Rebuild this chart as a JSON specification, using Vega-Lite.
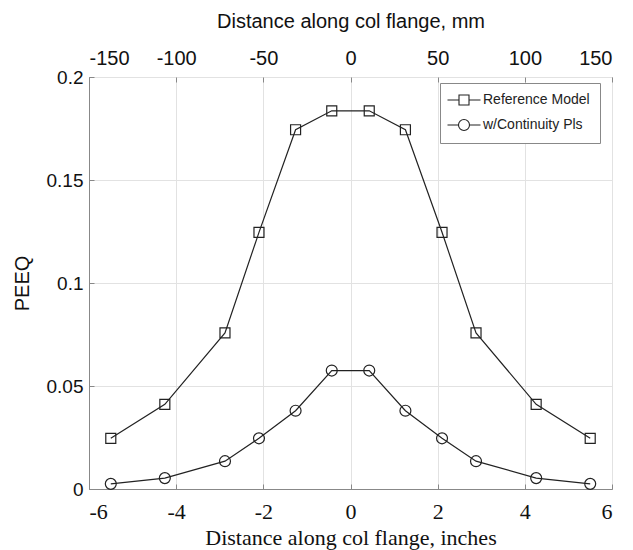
{
  "$schema": "https://vega.github.io/schema/vega-lite/v6.json",
  "autosize": {"type": "none"},
  "padding": {"left": 89, "top": 77, "right": 21, "bottom": 61},
  "width": 523,
  "height": 412,
  "background": "white",
  "config": {
    "view": {"stroke": "#888888", "strokeWidth": 1},
    "axis": {"domainColor": "#888888", "tickColor": "#888888", "gridColor": "#e2e2e2", "labelColor": "#111111", "titleColor": "#111111", "titleFontWeight": "normal"}
  },
  "datasets": {
    "peeq": [
      {"x": -5.5, "PEEQ": 0.0246, "series": "Reference Model"},
      {"x": -4.26, "PEEQ": 0.0411, "series": "Reference Model"},
      {"x": -2.88, "PEEQ": 0.0758, "series": "Reference Model"},
      {"x": -2.1, "PEEQ": 0.1246, "series": "Reference Model"},
      {"x": -1.26, "PEEQ": 0.1744, "series": "Reference Model"},
      {"x": -0.43, "PEEQ": 0.1836, "series": "Reference Model"},
      {"x": 0.43, "PEEQ": 0.1836, "series": "Reference Model"},
      {"x": 1.26, "PEEQ": 0.1744, "series": "Reference Model"},
      {"x": 2.1, "PEEQ": 0.1246, "series": "Reference Model"},
      {"x": 2.88, "PEEQ": 0.0758, "series": "Reference Model"},
      {"x": 4.26, "PEEQ": 0.0411, "series": "Reference Model"},
      {"x": 5.5, "PEEQ": 0.0246, "series": "Reference Model"},
      {"x": -5.5, "PEEQ": 0.0025, "series": "w/Continuity Pls"},
      {"x": -4.26, "PEEQ": 0.0053, "series": "w/Continuity Pls"},
      {"x": -2.88, "PEEQ": 0.0135, "series": "w/Continuity Pls"},
      {"x": -2.1, "PEEQ": 0.0246, "series": "w/Continuity Pls"},
      {"x": -1.26, "PEEQ": 0.038, "series": "w/Continuity Pls"},
      {"x": -0.43, "PEEQ": 0.0575, "series": "w/Continuity Pls"},
      {"x": 0.43, "PEEQ": 0.0575, "series": "w/Continuity Pls"},
      {"x": 1.26, "PEEQ": 0.038, "series": "w/Continuity Pls"},
      {"x": 2.1, "PEEQ": 0.0246, "series": "w/Continuity Pls"},
      {"x": 2.88, "PEEQ": 0.0135, "series": "w/Continuity Pls"},
      {"x": 4.26, "PEEQ": 0.0053, "series": "w/Continuity Pls"},
      {"x": 5.5, "PEEQ": 0.0025, "series": "w/Continuity Pls"}
    ],
    "mm": [{"mm": -150}, {"mm": 150}]
  },
  "layer": [
    {
      "data": {"name": "peeq"},
      "layer": [
        {
          "mark": {"type": "line", "color": "#222222", "strokeWidth": 1.2},
          "encoding": {
            "x": {"field": "x", "type": "quantitative"},
            "y": {"field": "PEEQ", "type": "quantitative"},
            "detail": {"field": "series"}
          }
        },
        {
          "transform": [{"filter": "datum.series === 'Reference Model'"}],
          "mark": {"type": "point", "shape": "square", "filled": false, "color": "#222222", "strokeWidth": 1.2, "size": 100, "opacity": 1},
          "encoding": {
            "x": {"field": "x", "type": "quantitative"},
            "y": {"field": "PEEQ", "type": "quantitative"}
          }
        },
        {
          "transform": [{"filter": "datum.series === 'w/Continuity Pls'"}],
          "mark": {"type": "point", "shape": "circle", "filled": false, "color": "#222222", "strokeWidth": 1.2, "size": 120, "opacity": 1},
          "encoding": {
            "x": {"field": "x", "type": "quantitative"},
            "y": {"field": "PEEQ", "type": "quantitative"}
          }
        },
        {
          "mark": {"type": "point", "filled": false, "color": "#222222", "strokeWidth": 1.1, "size": 100, "opacity": 0},
          "encoding": {
            "x": {"field": "x", "type": "quantitative"},
            "y": {"field": "PEEQ", "type": "quantitative"},
            "shape": {
              "field": "series",
              "type": "nominal",
              "scale": {
                "domain": ["Reference Model", "w/Continuity Pls"],
                "range": ["M-3.3,0H-1M1,0H3.3M-1,-1H1V1H-1Z", "M-3.3,0H-1.1M1.1,0H3.3M1.1,0A1.1,1.1,0,1,1,-1.1,0A1.1,1.1,0,1,1,1.1,0Z"]
              },
              "legend": {
                "title": null,
                "orient": "none",
                "legendX": 351,
                "legendY": 6,
                "padding": 10,
                "strokeColor": "#888888",
                "fillColor": "white",
                "symbolSize": 100,
                "symbolOpacity": 1,
                "symbolFillColor": "transparent",
                "symbolStrokeColor": "#222222",
                "symbolStrokeWidth": 1.1,
                "symbolOffset": 7,
                "labelOffset": 12,
                "labelFont": "Liberation Sans",
                "labelFontSize": 14,
                "labelColor": "#222222",
                "rowPadding": 9
              }
            }
          }
        }
      ],
      "encoding": {
        "x": {
          "field": "x",
          "type": "quantitative",
          "scale": {"domain": [-6, 6], "nice": false, "zero": false},
          "axis": {
            "orient": "bottom",
            "values": [-6, -4, -2, 0, 2, 4, 6],
            "labelExpr": "'' + datum.value",
            "title": "Distance along col flange, inches",
            "titleFont": "Liberation Serif",
            "titleFontSize": 22,
            "titlePadding": 5,
            "labelFont": "Liberation Serif",
            "labelFontSize": 22,
            "labelPadding": 17,
            "tickSize": -5,
            "grid": true
          }
        },
        "y": {
          "field": "PEEQ",
          "type": "quantitative",
          "scale": {"domain": [0, 0.2], "nice": false},
          "axis": {
            "values": [0, 0.05, 0.1, 0.15, 0.2],
            "labelExpr": "'' + datum.value",
            "title": "PEEQ",
            "titleFont": "Liberation Sans",
            "titleFontSize": 20,
            "titlePadding": 14,
            "labelFont": "Liberation Sans",
            "labelFontSize": 19,
            "labelPadding": 11,
            "tickSize": -5,
            "grid": true
          }
        }
      }
    },
    {
      "data": {"name": "mm"},
      "mark": {"type": "point", "opacity": 0},
      "encoding": {
        "x": {
          "field": "mm",
          "type": "quantitative",
          "scale": {"domain": [-150, 150], "nice": false, "zero": false},
          "axis": {
            "orient": "top",
            "values": [-150, -100, -50, 0, 50, 100, 150],
            "labelExpr": "'' + datum.value",
            "title": "Distance along col flange, mm",
            "titleFont": "Liberation Sans",
            "titleFontSize": 20,
            "titlePadding": 17,
            "labelFont": "Liberation Sans",
            "labelFontSize": 20,
            "labelPadding": 14,
            "tickSize": -5,
            "grid": false,
            "domain": false
          }
        }
      }
    }
  ],
  "resolve": {"scale": {"x": "independent"}, "axis": {"x": "independent"}}
}
